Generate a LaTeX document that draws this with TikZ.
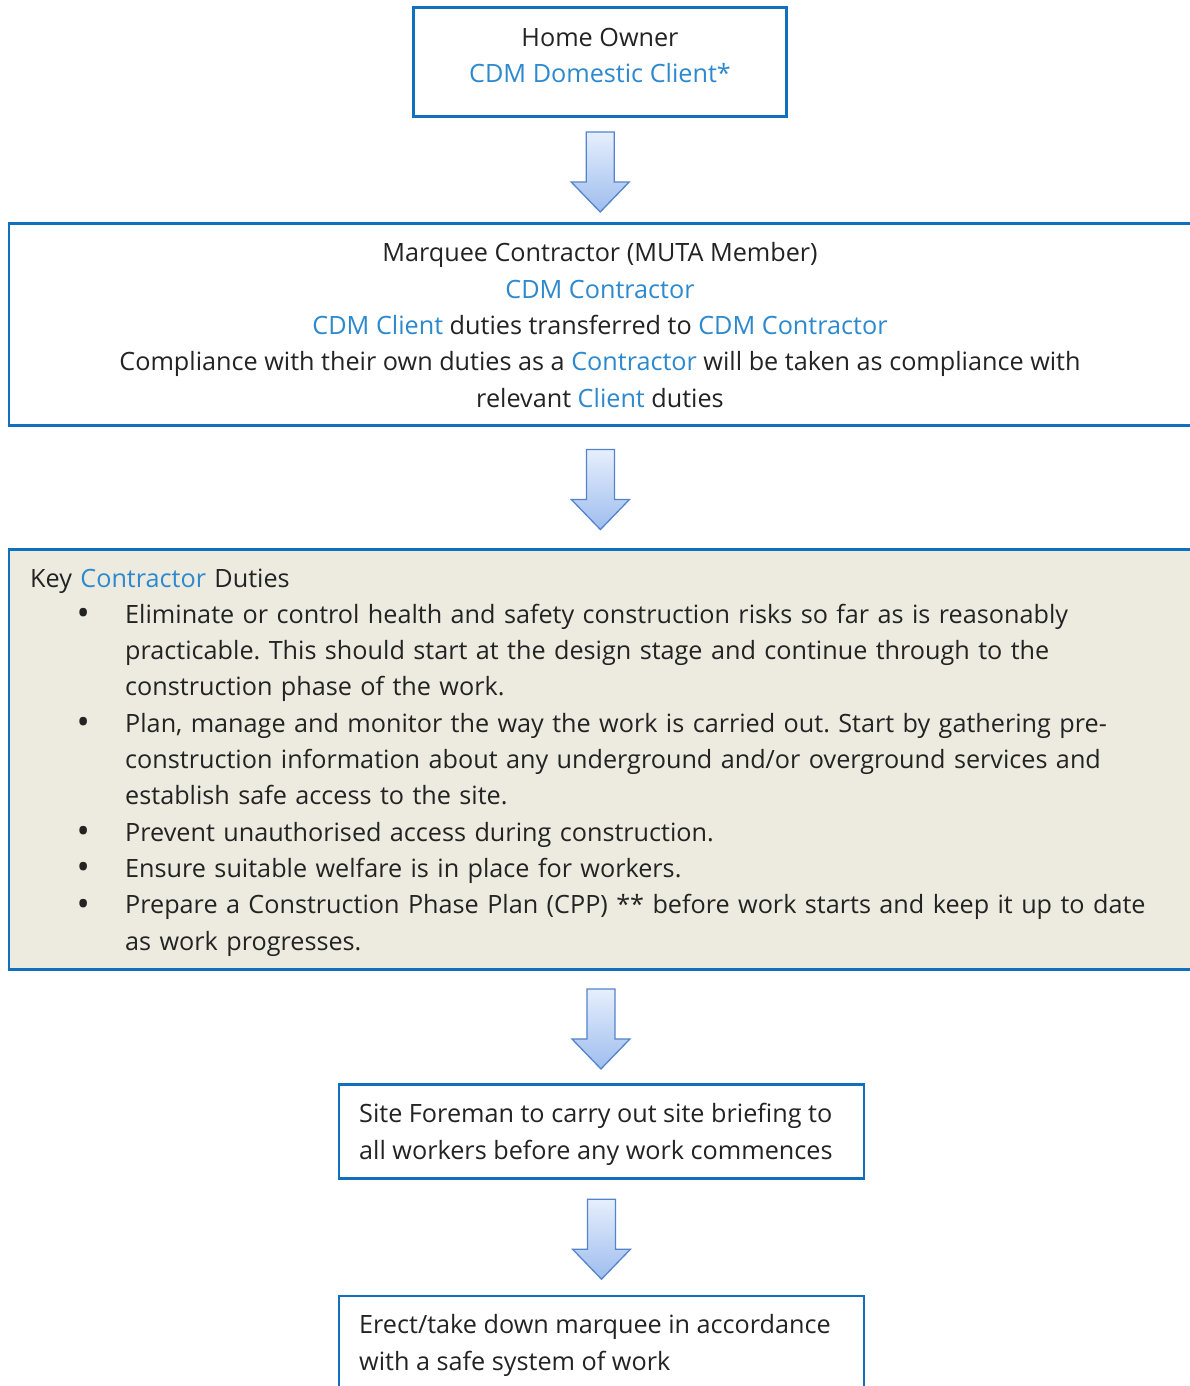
\documentclass[tikz,border=0pt]{standalone}
\usepackage{fontspec}
\setmainfont{Open Sans}
\usepackage{graphicx}
\usetikzlibrary{calc}
\definecolor{frameblue}{RGB}{16,112,190}
\definecolor{cdmblue}{RGB}{45,137,206}
\definecolor{ink}{RGB}{35,35,35}
\definecolor{dutybg}{RGB}{237,235,224}
\definecolor{arrtop}{RGB}{230,239,252}
\definecolor{arrbot}{RGB}{158,189,238}
\definecolor{arrline}{RGB}{84,132,204}
\newcommand{\bodyfont}{\fontsize{25.2}{36.3}\selectfont\frenchspacing}
\newcommand{\cdm}[1]{\textcolor{cdmblue}{#1}}
\newcommand{\dutybullet}{\makebox[0pt]{\raisebox{-2.5pt}{\scalebox{1.4}{\textbullet}}}}
\tikzset{
  frame/.style={draw=frameblue,line width=2.6pt,inner sep=0pt},
  txt/.style={inner sep=0pt,text=ink,font=\bodyfont},
  blk/.style={draw=arrline,line width=1.3pt,line join=miter,top color=arrtop,bottom color=arrbot}
}
% block arrow centred in the gap between two frames
\newcommand{\downarr}[2]{%
  \coordinate (m) at ($(#1.south)!0.5!(#2.north)$);
  \draw[blk] ([shift={(-14,-38)}]m) -- ([shift={(14,-38)}]m) -- ([shift={(14,12)}]m)
    -- ([shift={(29,12)}]m) -- ([shift={(0,42)}]m) -- ([shift={(-29,12)}]m)
    -- ([shift={(-14,12)}]m) -- cycle;}

\begin{document}
\begin{tikzpicture}[x=1pt,y=-1pt]
\useasboundingbox (0,0) rectangle (1189,1386);
\fill[white] (0,0) rectangle (1189,1386);

% frames
\node[frame,minimum width=373,minimum height=109] (owner) at (600,62) {};
\node[frame,minimum width=1183,minimum height=202] (contractor) at (600.4,324.5) {};
\node[frame,fill=dutybg,minimum width=1183,minimum height=420] (duties) at (600.4,759.6) {};
\node[frame,minimum width=525,minimum height=94] (foreman) at (601.5,1131.3) {};
\node[frame,minimum width=525,minimum height=96] (erect) at (601.5,1344) {};

% texts (base = last line)
\node[txt,align=center,anchor=base] (ownertxt) at (600,83)
  {Home Owner\\\cdm{CDM Domestic Client*}};
\node[txt,align=center,anchor=base] (contractortxt) at (600,407)
  {Marquee Contractor (MUTA Member)\\
   \cdm{CDM Contractor}\\
   \cdm{CDM Client} duties transferred to \cdm{CDM Contractor}\\
   Compliance with their own duties as a \cdm{Contractor} will be taken as compliance with\\
   relevant \cdm{Client} duties};
\node[txt,text width=1150,align=left,anchor=base west] (dutiestxt) at (30,587)
  {Key \cdm{Contractor} Duties
   \begin{list}{\dutybullet}{\setlength{\leftmargin}{95pt}\setlength{\labelwidth}{0pt}%
     \setlength{\labelsep}{42pt}\setlength{\itemsep}{0pt}\setlength{\parsep}{0pt}%
     \setlength{\topsep}{0pt}\setlength{\partopsep}{0pt}}
   \item Eliminate or control health and safety construction risks so far as is reasonably\\
     practicable. This should start at the design stage and continue through to the\\
     construction phase of the work.
   \item Plan, manage and monitor the way the work is carried out. Start by gathering pre-\\
     construction information about any underground and/or overground services and\\
     establish safe access to the site.
   \item Prevent unauthorised access during construction.
   \item Ensure suitable welfare is in place for workers.
   \item Prepare a Construction Phase Plan (CPP) ** before work starts and keep it up to date\\
     as work progresses.
   \end{list}};
\node[txt,align=left,anchor=base west] (foremantxt) at (359,1159)
  {Site Foreman to carry out site briefing to\\all workers before any work commences};
\node[txt,align=left,anchor=base west] (erecttxt) at (359,1370)
  {Erect/take down marquee in accordance\\with a safe system of work};

% arrows
\downarr{owner}{contractor}
\downarr{contractor}{duties}
\downarr{duties}{foreman}
\downarr{foreman}{erect}
\end{tikzpicture}
\end{document}
